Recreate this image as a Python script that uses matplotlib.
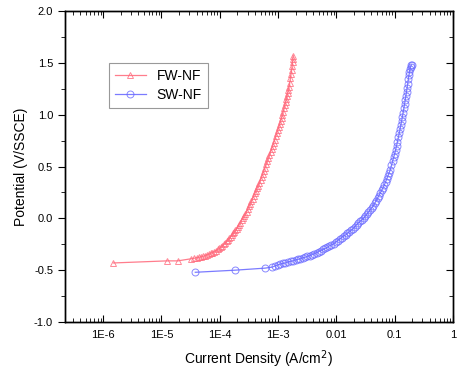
import matplotlib
matplotlib.use("Agg")
import matplotlib.pyplot as plt
from matplotlib.ticker import FixedLocator, FixedFormatter, LogLocator, MultipleLocator, NullFormatter

plt.rcParams['font.family'] = ['Liberation Sans', 'DejaVu Sans']

# FW-NF polarization data (current density A/cm2, potential V/SSCE)
fw_current = [1.5e-6, 1.25e-5, 1.9e-5, 3.2e-5, 3.6e-5, 4.0e-5, 4.4e-5, 4.8e-5,
              5.2e-5, 5.6e-5, 6.0e-5, 6.5e-5, 7.0e-5, 7.5e-5, 8.0e-5, 8.6e-5,
              9.2e-5, 9.8e-5, 1.05e-4, 1.11e-4, 1.18e-4, 1.25e-4, 1.32e-4,
              1.39e-4, 1.46e-4, 1.54e-4, 1.62e-4, 1.70e-4, 1.78e-4, 1.86e-4,
              1.95e-4, 2.05e-4, 2.15e-4, 2.26e-4, 2.37e-4, 2.49e-4, 2.62e-4,
              2.75e-4, 2.89e-4, 3.03e-4, 3.18e-4, 3.33e-4, 3.49e-4, 3.65e-4,
              3.82e-4, 4.0e-4, 4.18e-4, 4.37e-4, 4.57e-4, 4.78e-4, 5.0e-4,
              5.23e-4, 5.47e-4, 5.72e-4, 5.98e-4, 6.25e-4, 6.53e-4, 6.82e-4,
              7.12e-4, 7.43e-4, 7.75e-4, 8.08e-4, 8.42e-4, 8.77e-4, 9.13e-4,
              9.5e-4, 9.88e-4, 1.03e-3, 1.07e-3, 1.11e-3, 1.15e-3, 1.19e-3,
              1.23e-3, 1.27e-3, 1.31e-3, 1.35e-3, 1.39e-3, 1.43e-3, 1.47e-3,
              1.51e-3, 1.55e-3, 1.59e-3, 1.63e-3, 1.67e-3, 1.71e-3, 1.75e-3,
              1.78e-3, 1.80e-3, 1.82e-3]
fw_potential = [-0.43, -0.41, -0.41, -0.39, -0.385, -0.38, -0.375, -0.37,
                -0.365, -0.36, -0.35, -0.345, -0.335, -0.33, -0.32, -0.31,
                -0.30, -0.29, -0.28, -0.265, -0.25, -0.235, -0.22,
                -0.205, -0.19, -0.175, -0.16, -0.145, -0.13, -0.115,
                -0.10, -0.08, -0.06, -0.04, -0.02, 0.00, 0.02,
                0.04, 0.065, 0.09, 0.115, 0.14, 0.165, 0.19,
                0.215, 0.24, 0.265, 0.29, 0.315, 0.34, 0.37,
                0.40, 0.43, 0.46, 0.49, 0.52, 0.55, 0.58,
                0.61, 0.64, 0.67, 0.70, 0.73, 0.76, 0.79,
                0.82, 0.85, 0.88, 0.91, 0.94, 0.97, 1.00,
                1.03, 1.06, 1.09, 1.12, 1.15, 1.18, 1.21,
                1.24, 1.27, 1.31, 1.35, 1.39, 1.43, 1.47,
                1.51, 1.54, 1.57]

# SW-NF polarization data
sw_current = [3.8e-5, 1.8e-4, 6.0e-4, 7.9e-4, 8.8e-4, 9.8e-4, 1.09e-3, 1.21e-3,
              1.34e-3, 1.48e-3, 1.64e-3, 1.81e-3, 2.0e-3, 2.2e-3, 2.42e-3,
              2.66e-3, 2.92e-3, 3.2e-3, 3.5e-3, 3.83e-3, 4.19e-3, 4.58e-3,
              5.0e-3, 5.45e-3, 5.93e-3, 6.45e-3, 7.0e-3, 7.6e-3, 8.25e-3,
              8.95e-3, 9.7e-3, 1.05e-2, 1.14e-2, 1.23e-2, 1.33e-2, 1.44e-2,
              1.55e-2, 1.67e-2, 1.8e-2, 1.94e-2, 2.08e-2, 2.23e-2, 2.39e-2,
              2.56e-2, 2.74e-2, 2.93e-2, 3.13e-2, 3.34e-2, 3.56e-2, 3.79e-2,
              4.03e-2, 4.28e-2, 4.54e-2, 4.81e-2, 5.09e-2, 5.38e-2, 5.68e-2,
              5.99e-2, 6.31e-2, 6.64e-2, 6.98e-2, 7.33e-2, 7.69e-2, 8.06e-2,
              8.44e-2, 8.83e-2, 9.23e-2, 9.64e-2, 1.0e-1, 1.04e-1, 1.08e-1,
              1.12e-1, 1.16e-1, 1.20e-1, 1.24e-1, 1.28e-1, 1.32e-1, 1.36e-1,
              1.40e-1, 1.44e-1, 1.48e-1, 1.52e-1, 1.56e-1, 1.60e-1, 1.64e-1,
              1.68e-1, 1.72e-1, 1.76e-1, 1.80e-1, 1.84e-1, 1.88e-1, 1.92e-1,
              1.95e-1]
sw_potential = [-0.52, -0.50, -0.48, -0.47, -0.46, -0.45, -0.44, -0.435,
                -0.43, -0.42, -0.415, -0.41, -0.40, -0.395, -0.39,
                -0.38, -0.375, -0.365, -0.36, -0.35, -0.34, -0.33,
                -0.32, -0.31, -0.30, -0.29, -0.28, -0.265, -0.255,
                -0.245, -0.23, -0.215, -0.20, -0.185, -0.17, -0.16,
                -0.145, -0.13, -0.115, -0.10, -0.08, -0.06, -0.045,
                -0.03, -0.015, 0.00, 0.02, 0.04, 0.06, 0.08,
                0.10, 0.12, 0.145, 0.17, 0.195, 0.22, 0.245,
                0.27, 0.295, 0.32, 0.35, 0.38, 0.41, 0.44,
                0.47, 0.51, 0.55, 0.59, 0.62, 0.66, 0.70,
                0.74, 0.78, 0.82, 0.86, 0.90, 0.94, 0.98,
                1.02, 1.06, 1.10, 1.14, 1.18, 1.22, 1.26,
                1.30, 1.34, 1.38, 1.41, 1.44, 1.46, 1.475,
                1.48]

decades = [1e-6, 1e-5, 1e-4, 1e-3, 1e-2, 1e-1, 1]
decade_labels = ['1E-6', '1E-5', '1E-4', '1E-3', '0.01', '0.1', '1']

fig = plt.figure(figsize=(4.57, 3.78), dpi=100)
ax = fig.add_axes([0.142, 0.148, 0.849, 0.823])

ax.plot(fw_current, fw_potential, color='#ff5c70', lw=0.9, marker='^',
        ms=5, mfc='none', mec='#ff6b7d', mew=0.7, alpha=0.8, label='FW-NF')
ax.plot(sw_current, sw_potential, color='#5a5aff', lw=0.9, marker='o',
        ms=5, mfc='none', mec='#6a6aff', mew=0.7, alpha=0.8, label='SW-NF')

ax.set_xscale('log')
ax.set_xlim(2.2e-7, 1)
ax.set_ylim(-1.0, 2.0)

ax.xaxis.set_major_locator(FixedLocator(decades))
ax.xaxis.set_major_formatter(FixedFormatter(decade_labels))
ax.xaxis.set_minor_locator(LogLocator(base=10, subs=range(2, 10), numticks=20))
ax.xaxis.set_minor_formatter(NullFormatter())
ax.yaxis.set_major_locator(MultipleLocator(0.5))
ax.yaxis.set_minor_locator(MultipleLocator(0.25))
ax.yaxis.set_major_formatter(plt.FuncFormatter(lambda v, p: '%.1f' % v))

ax.tick_params(axis='x', which='both', direction='in', top=True, labelsize=8, pad=6)
ax.tick_params(axis='x', which='major', length=5)
ax.tick_params(axis='x', which='minor', length=3)
ax.tick_params(axis='y', which='both', direction='out', labelsize=8, right=False)
ax.tick_params(axis='y', which='major', length=5)
ax.tick_params(axis='y', which='minor', length=3)

# right-hand ticks point inward
ax2 = ax.twinx()
ax2.set_ylim(-1.0, 2.0)
ax2.yaxis.set_major_locator(MultipleLocator(0.5))
ax2.yaxis.set_minor_locator(MultipleLocator(0.25))
ax2.tick_params(axis='y', which='both', direction='in', labelright=False)
ax2.tick_params(axis='y', which='major', length=5)
ax2.tick_params(axis='y', which='minor', length=3)

for a in (ax, ax2):
    for s in a.spines.values():
        s.set_linewidth(1.0)

ax.set_xlabel('Current Density (A/cm$^2$)', fontsize=10, labelpad=6)
ax.set_ylabel('Potential (V/SSCE)', fontsize=10, labelpad=4)

leg = ax.legend(loc='upper left', bbox_to_anchor=(0.095, 0.855), fontsize=10,
                fancybox=False, edgecolor='#999999', framealpha=1,
                handlelength=2.2, borderpad=0.45, labelspacing=0.35)
leg.get_frame().set_linewidth(0.8)

plt.savefig('out.png', dpi=100)
